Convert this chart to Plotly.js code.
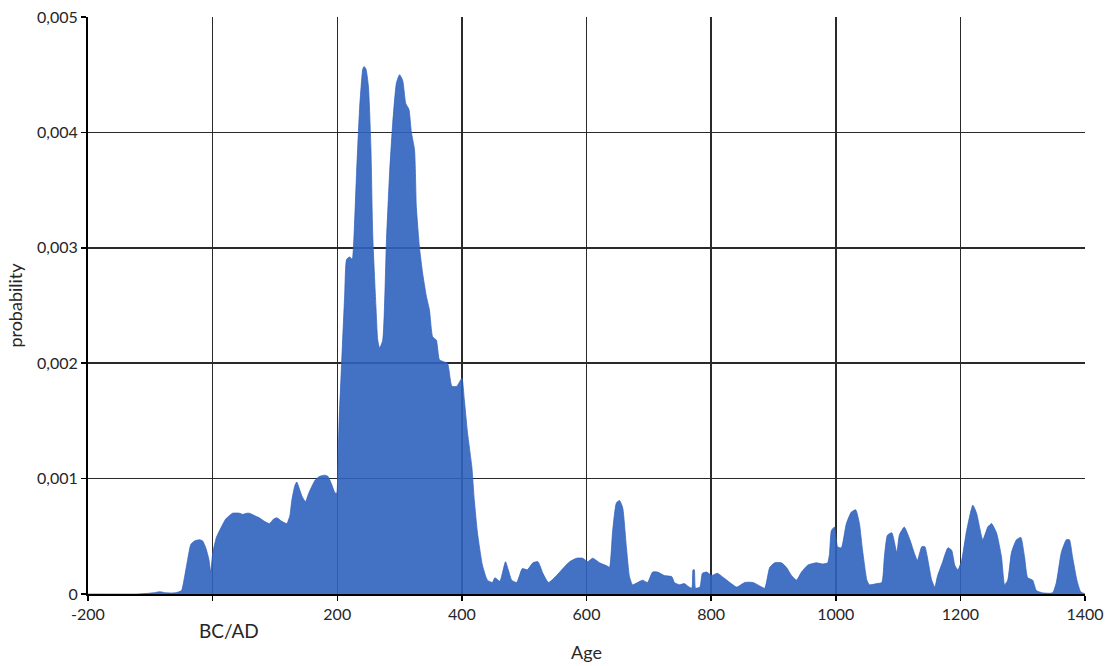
<!DOCTYPE html>
<html>
<head>
<meta charset="utf-8">
<script src="https://cdn.plot.ly/plotly-3.0.1.min.js"></script>
<style>
  html, body { margin: 0; padding: 0; background: #ffffff; }
  #chart { width: 1112px; height: 666px; }
</style>
</head>
<body>
<div id="chart"></div>
<script>
// Summed probability distribution of calibrated dates (age in years, negative = BC)
const ages = [
  -200, -170, -120, -95, -85, -75, -60, -50, -45, -40, -35, -29, -21, -16, -11, -6, -3,
  0, 6, 14, 21, 27, 32, 43, 48, 55, 59, 67, 75, 83, 91, 98, 103, 111, 119, 124, 127, 132,
  135, 140, 144, 149, 154, 159, 165, 172, 180, 185, 191, 196, 199,
  201, 203, 207, 212, 215, 220, 224, 226, 231, 236, 241, 243, 246, 250, 254, 257, 262,
  265, 268, 273, 279, 284, 289, 295, 300, 305, 310, 315, 319, 324, 327, 332, 337, 343,
  348, 353, 359, 364, 372, 377, 384, 392, 400, 404, 409, 416, 420, 425, 433, 441, 449,
  453, 461, 465, 470, 475, 480, 488, 497, 505, 514, 522, 530, 539, 552, 562, 573, 584,
  594, 602, 610, 621, 634, 637, 642, 648, 653, 658, 664, 669, 674, 682, 690, 698, 706,
  714, 725, 737, 741, 749, 757, 762, 769, 771, 773, 775, 782, 786, 793, 801, 810, 818,
  830, 841, 854, 867, 878, 886, 894, 902, 913, 921, 929, 937, 945, 955, 969, 979, 987,
  990, 993, 998, 1003, 1009, 1017, 1025, 1032, 1038, 1043, 1050, 1054, 1066, 1074, 1078,
  1083, 1090, 1098, 1102, 1110, 1119, 1127, 1131, 1138, 1143, 1147, 1154, 1159, 1163,
  1171, 1180, 1186, 1191, 1196, 1202, 1210, 1220, 1226, 1236, 1244, 1250, 1258, 1266,
  1271, 1276, 1282, 1290, 1297, 1303, 1308, 1316, 1322, 1332, 1348, 1354, 1362, 1370,
  1375, 1380, 1387, 1393, 1400
];

const probability = [
  0, 0, 0, 0.00001, 0.00002, 0.00001, 0.00001, 0.00003, 0.00015, 0.0003, 0.00043, 0.00046, 0.00047, 0.00046, 0.0004, 0.0003, 0.00019,
  0.00035, 0.00049, 0.00058, 0.00065, 0.00068, 0.0007, 0.0007, 0.00069, 0.0007, 0.0007, 0.00068, 0.00066, 0.00063, 0.00061, 0.00065, 0.00066, 0.00063, 0.00061, 0.00068, 0.00081, 0.00094,
  0.00097, 0.0009, 0.00084, 0.0008, 0.00087, 0.00093, 0.00099, 0.00102, 0.00103, 0.00102, 0.00095, 0.00088, 0.00087,
  0.0011, 0.0015, 0.002, 0.0026, 0.0029, 0.00292, 0.0029, 0.003, 0.00365, 0.00422, 0.00455, 0.00457, 0.00455, 0.0044, 0.00387, 0.0031, 0.0025,
  0.0022, 0.00213, 0.0022, 0.00307, 0.00365, 0.00408, 0.00443, 0.0045, 0.00445, 0.00425, 0.0042, 0.004, 0.00385, 0.00335, 0.003, 0.00278, 0.00258,
  0.00246, 0.00223, 0.0022, 0.00203, 0.00201, 0.002, 0.0018, 0.0018, 0.00187, 0.00168, 0.0014, 0.0011, 0.00081, 0.00053, 0.00025, 0.00012, 0.0001,
  0.00014, 0.00011, 0.00018, 0.00028, 0.0002, 0.00012, 0.0001, 0.00022, 0.00021, 0.00027, 0.00028, 0.00018, 0.0001, 0.00016, 0.00022, 0.00028, 0.00031,
  0.00031, 0.00028, 0.00031, 0.00027, 0.00024, 0.00023, 0.00055, 0.00079, 0.00081, 0.00075, 0.00041, 0.00015, 0.00008, 0.0001, 0.00012, 0.0001, 0.00019,
  0.00019, 0.00016, 0.00015, 0.0001, 0.00008, 0.00009, 0.00007, 0.00005, 0.00021, 0.00021, 0.00005, 0.00006, 0.00018, 0.00019, 0.00016, 0.00018, 0.00015,
  0.0001, 0.00006, 0.0001, 0.0001, 0.00007, 0.00005, 0.00023, 0.00027, 0.00027, 0.00023, 0.00016, 0.00012, 0.00019, 0.00025, 0.00027, 0.00026, 0.00027,
  0.00035, 0.00055, 0.00058, 0.00041, 0.0004, 0.00061, 0.00071, 0.00073, 0.00061, 0.00038, 0.00012, 0.00008, 0.00009, 0.0001, 0.00032,
  0.00051, 0.00053, 0.00036, 0.00051, 0.00058, 0.00047, 0.00034, 0.00029, 0.00041, 0.00041, 0.00032, 0.00012, 0.00006, 0.00015,
  0.00027, 0.0004, 0.00038, 0.00025, 0.00021, 0.00029, 0.00055, 0.00077, 0.0007, 0.00047, 0.00058, 0.00061, 0.00053, 0.00032,
  0.00008, 0.00012, 0.00036, 0.00047, 0.00049, 0.00032, 0.00014, 0.00012, 0.00003, 0.00001, 0.00001, 0.0001, 0.00036, 0.00047,
  0.00047, 0.00032, 0.00012, 0.00002, 0
];

// Axis ticks; the year 0 is labelled separately as BC/AD
const xTickVals = [-200, 0, 200, 400, 600, 800, 1000, 1200, 1400];
const xTickText = ['-200', '', '200', '400', '600', '800', '1000', '1200', '1400'];
const yTickVals = [0, 0.001, 0.002, 0.003, 0.004, 0.005];
const yTickText = ['0', '0,001', '0,002', '0,003', '0,004', '0,005'];

const FONT = 'Lato, "Open Sans", sans-serif';
const TEXT = '#262626';
const GRID = '#2a2a2a';

const trace = {
  x: ages,
  y: probability,
  type: 'scatter',
  mode: 'lines',
  fill: 'tozeroy',
  fillcolor: 'rgba(47,98,189,0.9)',
  line: { color: 'rgba(47,98,189,0.9)', width: 0.8, shape: 'spline', smoothing: 0.5 },
  hoverinfo: 'x+y'
};

const layout = {
  width: 1112,
  height: 666,
  margin: { l: 88, r: 27, t: 17, b: 72 },
  paper_bgcolor: '#ffffff',
  plot_bgcolor: '#ffffff',
  showlegend: false,
  font: { family: FONT, color: TEXT, size: 16 },
  xaxis: {
    range: [-200, 1400],
    tickmode: 'array',
    tickvals: xTickVals,
    ticktext: xTickText,
    ticks: 'outside',
    ticklen: 5,
    tickwidth: 1.5,
    tickcolor: '#000000',
    showline: true,
    linecolor: '#000000',
    linewidth: 2,
    showgrid: true,
    gridcolor: GRID,
    gridwidth: 1.5,
    zeroline: false,
    tickfont: { family: FONT, size: 16, color: TEXT },
    title: { text: 'Age', font: { family: FONT, size: 18, color: TEXT }, standoff: 24 },
    fixedrange: true
  },
  yaxis: {
    range: [0, 0.005],
    tickmode: 'array',
    tickvals: yTickVals,
    ticktext: yTickText,
    ticks: 'outside',
    ticklen: 5,
    tickwidth: 1.5,
    tickcolor: '#000000',
    showline: true,
    linecolor: '#000000',
    linewidth: 2,
    showgrid: true,
    gridcolor: GRID,
    gridwidth: 1.5,
    zeroline: false,
    tickfont: { family: FONT, size: 16, color: TEXT },
    title: { text: 'probability', font: { family: FONT, size: 18, color: TEXT }, standoff: 10 },
    fixedrange: true
  },
  annotations: [{
    x: 0,
    xref: 'x',
    xshift: 16,
    y: 0,
    yref: 'paper',
    yshift: -36,
    yanchor: 'middle',
    xanchor: 'center',
    text: 'BC/AD',
    showarrow: false,
    font: { family: FONT, size: 19, color: TEXT }
  }]
};

Plotly.newPlot('chart', [trace], layout, { displayModeBar: false, staticPlot: true });
</script>
</body>
</html>
